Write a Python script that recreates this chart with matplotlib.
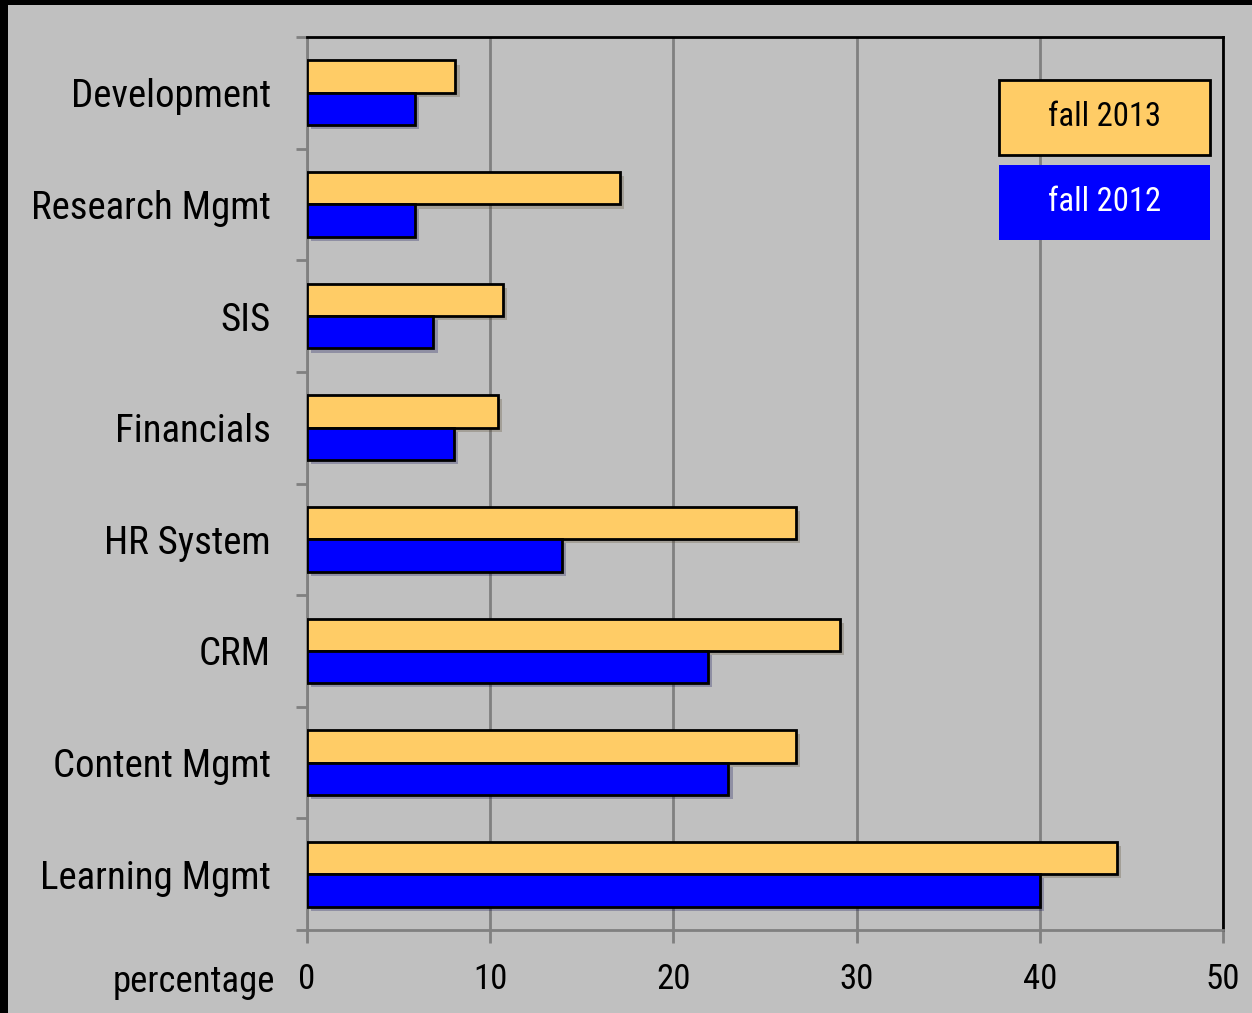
import matplotlib.pyplot as plt
import matplotlib.patheffects as pe
from matplotlib.patches import Rectangle
import numpy as np

plt.rcParams['font.family'] = ['Roboto Condensed', 'Liberation Sans Narrow',
                               'Liberation Sans', 'DejaVu Sans']
plt.rcParams['font.stretch'] = 'condensed'

categories = ['Learning Mgmt', 'Content Mgmt', 'CRM', 'HR System',
              'Financials', 'SIS', 'Research Mgmt', 'Development']
fall_2013 = [44.2, 26.7, 29.1, 26.7, 10.4, 10.7, 17.1, 8.1]
fall_2012 = [40.0, 23.0, 21.9, 13.9, 8.0, 6.9, 5.9, 5.9]
xticks = [0, 10, 20, 30, 40, 50]

bg = '#C0C0C0'
gold = '#FFCC66'
blue = '#0000FF'
grey = '#808080'

W, H = 1252, 1013
fig = plt.figure(figsize=(W / 100, H / 100), dpi=100, facecolor='black')
# grey panel inside the black frame (frame only at top and left)
fig.patches.append(Rectangle((8 / W, 0), 1, 1 - 5 / H, transform=fig.transFigure,
                             facecolor=bg, edgecolor='none', zorder=-10))

ax = fig.add_axes([307 / W, 1 - 930 / H, (1223 - 307) / W, (930 - 37) / H])
ax.set_facecolor(bg)
ax.set_zorder(5)

y = np.arange(len(categories))
h = 0.29
shadow = [pe.SimplePatchShadow(offset=(3, -3), alpha=0.25), pe.Normal()]
b1 = ax.barh(y + h / 2, fall_2013, height=h, color=gold, edgecolor='black',
             linewidth=2, zorder=3)
b2 = ax.barh(y - h / 2, fall_2012, height=h, color=blue, edgecolor='black',
             linewidth=2, zorder=3)
for bar in list(b1) + list(b2):
    bar.set_path_effects(shadow)

ax.set_xlim(0, 50)
ax.set_ylim(-0.5, len(categories) - 0.5)
ax.set_xticks(xticks)
ax.set_xticklabels([str(v) for v in xticks], fontsize=25)
ax.set_yticks(y)
ax.set_yticklabels(categories, fontsize=28)
ax.set_yticks(np.arange(len(categories) + 1) - 0.5, minor=True)

ax.tick_params(axis='y', which='major', length=0, pad=26)
ax.tick_params(axis='y', which='minor', length=8, width=2, color=grey)
ax.tick_params(axis='x', which='major', length=9, width=2, color=grey, pad=15)

ax.xaxis.grid(True, color=grey, linewidth=2)
ax.set_axisbelow(True)

ax.spines['left'].set_color(grey)
ax.spines['bottom'].set_color(grey)
ax.spines['left'].set_linewidth(2)
ax.spines['bottom'].set_linewidth(2)
ax.spines['top'].set_color('black')
ax.spines['right'].set_color('black')
ax.spines['top'].set_linewidth(2)
ax.spines['right'].set_linewidth(2)

fig.text(275 / W, 1 - 982 / H, 'percentage', fontsize=26.5, ha='right', va='center')

# legend boxes
ax.add_patch(Rectangle((0.7555, 0.8679), 0.2303, 0.0839, transform=ax.transAxes,
                       facecolor=gold, edgecolor='black', linewidth=2, zorder=5))
ax.text(0.8707, 0.9099, 'fall 2013', transform=ax.transAxes, fontsize=23.5,
        ha='center', va='center', color='black', zorder=6)
ax.add_patch(Rectangle((0.7555, 0.7727), 0.2303, 0.0840, transform=ax.transAxes,
                       facecolor=blue, edgecolor='none', zorder=5))
ax.text(0.8707, 0.8147, 'fall 2012', transform=ax.transAxes, fontsize=23.5,
        ha='center', va='center', color='white', zorder=6)

fig.savefig('out.png', dpi=100, facecolor=fig.get_facecolor())
